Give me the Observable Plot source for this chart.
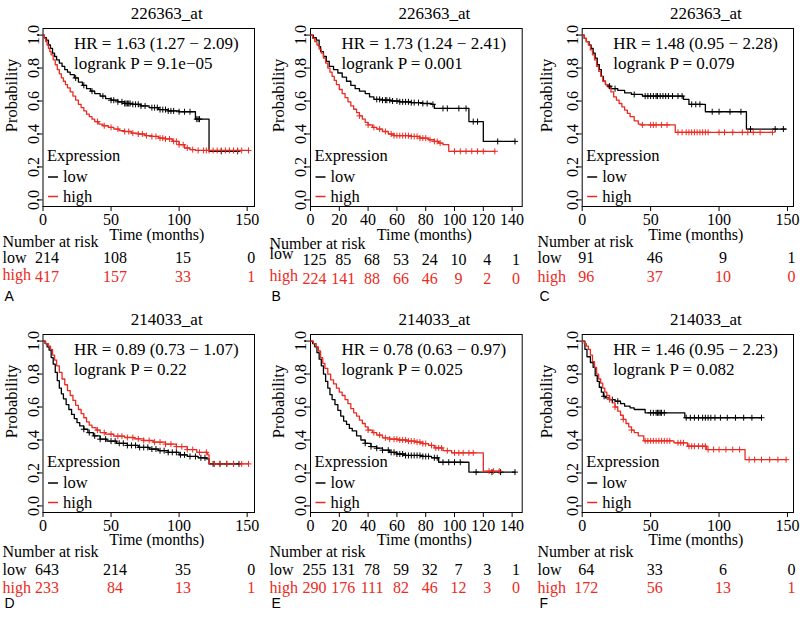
<!DOCTYPE html>
<html><head><meta charset="utf-8">
<script src="https://cdn.jsdelivr.net/npm/d3@7"></script>
<script src="https://cdn.jsdelivr.net/npm/@observablehq/plot@0.6"></script>
<style>
body{margin:0;background:#fff;}
#wrap{position:relative;width:800px;height:625px;overflow:hidden;background:#fff;}
#wrap svg{position:absolute;}
</style></head><body><div id="wrap"></div>
<script>
// ---------- DATA ----------
const titleTop = "226363_at";
const titleBottom = "214033_at";
const hrText = ["HR = 1.63 (1.27 \u2212 2.09)","HR = 1.73 (1.24 \u2212 2.41)","HR = 1.48 (0.95 \u2212 2.28)",
                "HR = 0.89 (0.73 \u2212 1.07)","HR = 0.78 (0.63 \u2212 0.97)","HR = 1.46 (0.95 \u2212 2.23)"];
const pText = ["logrank P = 9.1e\u221205","logrank P = 0.001","logrank P = 0.079",
               "logrank P = 0.22","logrank P = 0.025","logrank P = 0.082"];
const panelLetters = ["A","B","C","D","E","F"];
const groupNames = ["low","high"];
const ticks150 = [0,50,100,150];
const ticks140 = [0,20,40,60,80,100,120,140];
const yTicks = [0,0.2,0.4,0.6,0.8,1.0];

// Panel A
const aLowTime = [0,1,2.5,4,5.5,7,8.5,10,12,14,16,18,20,23,26,29,32,35,38,42,46,50,55,60,66,72,78,85,92,100,112,122,144];
const aLowSurv = [1,0.985,0.97,0.94,0.92,0.89,0.87,0.85,0.83,0.81,0.79,0.775,0.76,0.74,0.715,0.695,0.675,0.66,0.645,0.63,0.615,0.605,0.595,0.585,0.58,0.57,0.56,0.548,0.54,0.535,0.49,0.295,0.295];
const aLowCens = [24,30,36,44,50,52,55,58,60,61,62,63,64,66,68,70,72,75,80,82,84,86,88,90,92,94,96,100,104,108,113,114,115,131,143];
const aHighTime = [0,1,2,3,4,5,6,7.5,9,10.5,12,13.5,15,16.5,18,20,22,24,26,28,30,32,34,36,38,41,44,48,52,56,60,65,70,75,80,85,90,95,100,104,108,112,151];
const aHighSurv = [1,0.98,0.96,0.94,0.92,0.9,0.88,0.85,0.82,0.79,0.765,0.74,0.72,0.7,0.68,0.655,0.63,0.605,0.58,0.56,0.54,0.52,0.505,0.49,0.475,0.46,0.45,0.44,0.43,0.42,0.415,0.405,0.4,0.39,0.385,0.375,0.37,0.355,0.335,0.315,0.305,0.3,0.3];
const aHighCens = [40,45,50,55,60,63,66,70,73,76,80,83,86,88,90,93,96,98,100,103,106,110,114,118,120,122,125,128,131,134,137,140,143,146,151];
const aRiskLow = [214,108,15,0];
const aRiskHigh = [417,157,33,1];

// Panel B
const bLowTime = [0,2,4,6,7,9,11,13,16,19,22,25,28,31,34,38,41,44,50,56,62,70,78,84,86,110,120,142];
const bLowSurv = [1,0.985,0.97,0.93,0.9,0.87,0.84,0.81,0.79,0.77,0.745,0.72,0.695,0.675,0.66,0.645,0.625,0.61,0.605,0.6,0.595,0.59,0.585,0.58,0.555,0.475,0.355,0.355];
const bLowCens = [46,48,50,52,53,55,57,60,62,64,66,68,70,72,75,78,81,85,92,95,103,108,113,116,130,142];
const bHighTime = [0,1.5,3,4.5,6,7.5,9,10.5,12,13.5,15,16.5,18,20,22,24,26,28,30,32,34,36,38,40,43,46,50,54,58,70,76,82,86,89,92,96,128];
const bHighSurv = [1,0.98,0.96,0.94,0.915,0.89,0.86,0.83,0.8,0.775,0.75,0.725,0.7,0.67,0.645,0.62,0.595,0.57,0.55,0.53,0.51,0.49,0.47,0.455,0.44,0.43,0.415,0.4,0.39,0.385,0.375,0.365,0.355,0.345,0.335,0.295,0.295];
const bHighCens = [34,40,44,48,52,56,58,60,62,64,66,68,70,72,74,76,78,80,83,86,88,90,100,104,108,112,116,120,128];
const bRiskLow = [125,85,68,53,24,10,4,1];
const bRiskHigh = [224,141,88,66,46,9,2,0];

// Panel C
const cLowTime = [0,1.5,3,5,6.5,8,9.5,11,12.5,14,15.5,17,19,21,26,31,36,44,74,78,90,120,149];
const cLowSurv = [1,0.98,0.96,0.94,0.92,0.89,0.86,0.82,0.79,0.75,0.72,0.7,0.69,0.675,0.665,0.65,0.64,0.63,0.61,0.58,0.535,0.43,0.43];
const cLowCens = [20,24,38,46,48,50,52,54,55,57,59,61,63,66,70,73,80,83,86,95,100,108,116,123,141,147];
const cHighTime = [0,1.5,3,4.5,6,7.5,9,10.5,12,13.5,15,17,19,21,23,25,27,29,31,33,35,38,41,43,68,139];
const cHighSurv = [1,0.98,0.96,0.94,0.91,0.88,0.85,0.81,0.78,0.75,0.72,0.7,0.68,0.655,0.625,0.605,0.585,0.565,0.545,0.525,0.505,0.48,0.46,0.455,0.41,0.41];
const cHighCens = [44,50,52,54,58,62,70,73,76,78,80,82,84,86,88,90,92,100,104,110,117,121,125,130,139];
const cRiskLow = [91,46,9,1];
const cRiskHigh = [96,37,10,0];

// Panel D
const dLowTime = [0,1.5,3,4.5,6,7.5,9,10.5,12,13.5,15,17,19,21,23,25,27,30,33,37,42,47,54,62,70,78,85,92,100,106,114,120,122,144];
const dLowSurv = [1,0.985,0.965,0.945,0.9,0.86,0.81,0.76,0.715,0.68,0.65,0.615,0.585,0.555,0.53,0.505,0.485,0.465,0.445,0.425,0.405,0.393,0.38,0.367,0.355,0.345,0.335,0.325,0.31,0.3,0.292,0.285,0.255,0.255];
const dLowCens = [30,34,38,42,46,50,53,56,59,62,65,68,71,74,77,80,83,86,89,92,95,98,101,104,108,112,116,119,125,130,135,140,144];
const dHighTime = [0,2,4,5.5,7,8.5,10,12,14,16,18,20,22,24,26,28,30,32,34,36,39,42,46,52,60,67,74,81,90,98,106,113,121,122,151];
const dHighSurv = [1,0.985,0.97,0.95,0.915,0.885,0.85,0.81,0.77,0.735,0.7,0.67,0.64,0.61,0.585,0.56,0.535,0.51,0.49,0.475,0.46,0.445,0.435,0.423,0.415,0.407,0.397,0.387,0.375,0.36,0.342,0.325,0.31,0.255,0.255];
const dHighCens = [40,45,50,55,58,62,66,70,74,78,82,86,90,94,98,102,106,110,115,120,126,130,135,140,146,151];
const dRiskLow = [643,214,35,0];
const dRiskHigh = [233,84,13,1];

// Panel E
const eLowTime = [0,1.5,3,4.5,6,7.5,9,10.5,12,13.5,15,17,19,21,23,25,27,29,32,35,38,42,46,50,55,60,66,78,84,89,110,142];
const eLowSurv = [1,0.985,0.965,0.93,0.89,0.85,0.8,0.755,0.715,0.675,0.645,0.615,0.58,0.545,0.515,0.495,0.47,0.455,0.425,0.4,0.38,0.36,0.35,0.338,0.325,0.315,0.306,0.3,0.292,0.265,0.205,0.205];
const eLowCens = [38,42,46,50,54,56,58,60,62,64,66,68,70,72,74,76,78,80,82,86,88,92,96,100,104,115,126,132,142];
const eHighTime = [0,2,4,5.5,7,8.5,10,12,14,16,18,20,22,24,26,28,30,32,34,36,38,40,43,46,50,55,61,67,73,78,82,86,92,98,120,131.5];
const eHighSurv = [1,0.985,0.965,0.94,0.9,0.865,0.835,0.8,0.765,0.74,0.715,0.69,0.67,0.645,0.62,0.59,0.565,0.545,0.52,0.5,0.48,0.46,0.445,0.43,0.413,0.405,0.4,0.393,0.387,0.378,0.367,0.352,0.335,0.322,0.211,0.211];
const eHighCens = [40,44,48,52,55,58,60,62,64,66,68,70,72,74,76,78,80,84,87,89,91,95,100,103,106,110,113,124,127,131];
const eRiskLow = [255,131,78,59,32,7,3,1];
const eRiskHigh = [290,176,111,82,46,12,3,0];

// Panel F
const fLowTime = [0,2,3.5,6,8,9.5,11,12.5,14,15.5,17,20,24,28,31,35,38,46,75,131];
const fLowSurv = [1,0.95,0.905,0.87,0.84,0.79,0.755,0.72,0.69,0.665,0.655,0.645,0.635,0.62,0.605,0.595,0.585,0.565,0.535,0.535];
const fLowCens = [16,22,26,50,52,54,55,56,57,58,60,76,79,82,85,88,90,92,94,97,101,106,112,118,124,131];
const fHighTime = [0,1.5,3,4.5,6,7.5,9,10.5,12,13.5,15,16.5,18,20,22,24,26,28,30,32,34,36,38,41,45,67,77,91,119,149];
const fHighSurv = [1,0.985,0.97,0.95,0.915,0.875,0.84,0.8,0.77,0.745,0.715,0.69,0.67,0.645,0.625,0.6,0.575,0.55,0.525,0.5,0.48,0.46,0.445,0.425,0.395,0.383,0.362,0.342,0.281,0.281];
const fHighCens = [20,24,30,36,46,48,50,52,54,56,58,60,62,64,70,72,74,78,80,82,85,88,90,92,96,100,105,110,115,122,126,131,137,143,149];
const fRiskLow = [64,33,6,0];
const fRiskHigh = [172,56,13,1];

// ---------- HELPERS ----------
const RED = "#ea2b23", BLACK = "#000";
function steps(times, survs) { return times.map((t, i) => ({t, s: survs[i]})); }
function censorPts(times, survs, cens) {
  return cens.map(c => { let s = survs[0]; for (let i = 0; i < times.length; i++) if (times[i] <= c) s = survs[i]; return {t: c, s}; });
}
const dashSymbol = { draw(ctx, size) { const r = Math.sqrt(size / Math.PI); ctx.moveTo(-r, 0); ctx.lineTo(r, 0); } };

const rows = [
  {top: 0, height: 306, mT: 28, mB: 100, time: 28, nar: 35, low: 51, high: 70, letter: 90},
  {top: 306, height: 319, mT: 28, mB: 113, time: 27, nar: 39, low: 57, high: 75, letter: 91}
];
const cols = [
  {left: 0, mL: 42.5, mR: 11},
  {left: 267, mL: 43, mR: 10.3},
  {left: 535, mL: 46.7, mR: 7}
];

const panels = [
  {row: 0, col: 0, title: titleTop, xTicks: ticks150, xMax: 155.4, low: [aLowTime, aLowSurv, aLowCens], high: [aHighTime, aHighSurv, aHighCens], rLow: aRiskLow, rHigh: aRiskHigh, narS: 0, numS: 0, lowS: 0, highS: -2},
  {row: 0, col: 1, title: titleTop, xTicks: ticks140, xMax: 147, low: [bLowTime, bLowSurv, bLowCens], high: [bHighTime, bHighSurv, bHighCens], rLow: bRiskLow, rHigh: bRiskHigh, narS: 2, numS: 2, lowS: -6, highS: -3},
  {row: 0, col: 2, title: titleTop, xTicks: ticks150, xMax: 154.4, low: [cLowTime, cLowSurv, cLowCens], high: [cHighTime, cHighSurv, cHighCens], rLow: cRiskLow, rHigh: cRiskHigh, narS: 0, numS: 0, lowS: 0, highS: 0},
  {row: 1, col: 0, title: titleBottom, xTicks: ticks150, xMax: 155.4, low: [dLowTime, dLowSurv, dLowCens], high: [dHighTime, dHighSurv, dHighCens], rLow: dRiskLow, rHigh: dRiskHigh, narS: 0, numS: 0, lowS: 0, highS: 0},
  {row: 1, col: 1, title: titleBottom, xTicks: ticks140, xMax: 147, low: [eLowTime, eLowSurv, eLowCens], high: [eHighTime, eHighSurv, eHighCens], rLow: eRiskLow, rHigh: eRiskHigh, narS: 0, numS: 0, lowS: 0, highS: 0},
  {row: 1, col: 2, title: titleBottom, xTicks: ticks150, xMax: 154.4, low: [fLowTime, fLowSurv, fLowCens], high: [fHighTime, fHighSurv, fHighCens], rLow: fRiskLow, rHigh: fRiskHigh, narS: 0, numS: 0, lowS: 0, highS: 0}
];

const wrap = document.getElementById("wrap");
panels.forEach((p, k) => {
  const R = rows[p.row], C = cols[p.col];
  const W = 265;
  const lab = (x) => x - C.mL; // local x -> dx from frame left
  const riskLowData = p.xTicks.map((t, i) => ({t, n: p.rLow[i]}));
  const riskHighData = p.xTicks.map((t, i) => ({t, n: p.rHigh[i]}));
  const svg = Plot.plot({
    width: W, height: R.height,
    marginTop: R.mT, marginBottom: R.mB, marginLeft: C.mL, marginRight: C.mR,
    x: {domain: [0, p.xMax]},
    y: {domain: [-0.04, 1.04]},
    style: {fontFamily: "'Liberation Serif', 'Times New Roman', serif", fontSize: "16px", color: "#000", background: "transparent", overflow: "visible"},
    marks: [
      Plot.frame({stroke: BLACK, strokeWidth: 1}),
      Plot.axisX({ticks: p.xTicks, tickSize: 5, tickPadding: 2, label: null, fontSize: 16, stroke: BLACK}),
      Plot.axisY({ticks: yTicks, tickSize: 5, tickFormat: () => "", label: null, stroke: BLACK}),
      Plot.text(yTicks, {y: d => d, text: d => d3.format(".1f")(d), frameAnchor: "left", rotate: -90, textAnchor: "middle", lineAnchor: "bottom", dx: -4.5, fontSize: 16}),
      Plot.text(["Probability"], {text: d => d, frameAnchor: "top-left", dx: lab(11), dy: 67, rotate: -90, textAnchor: "middle", lineAnchor: "middle", fontSize: 16.5}),
      Plot.text([p.title], {text: d => d, frameAnchor: "top", dx: 18, dy: -15, lineAnchor: "middle", fontSize: 17}),
      Plot.text([hrText[k]], {text: d => d, frameAnchor: "top-left", dx: 31, dy: 15, textAnchor: "start", lineAnchor: "middle", fontSize: 17}),
      Plot.text([pText[k]], {text: d => d, frameAnchor: "top-left", dx: 31, dy: 35, textAnchor: "start", lineAnchor: "middle", fontSize: 17}),
      // legend
      Plot.text(["Expression"], {text: d => d, frameAnchor: "bottom-left", dx: 4, dy: -51, textAnchor: "start", lineAnchor: "middle", fontSize: 16.5}),
      Plot.dot([groupNames[0]], {frameAnchor: "bottom-left", dx: 10, dy: -29.5, symbol: dashSymbol, r: 5, fill: "none", stroke: BLACK, strokeWidth: 1.5}),
      Plot.dot([groupNames[1]], {frameAnchor: "bottom-left", dx: 10, dy: -10, symbol: dashSymbol, r: 5, fill: "none", stroke: RED, strokeWidth: 1.5}),
      Plot.text([groupNames[0]], {text: d => d, frameAnchor: "bottom-left", dx: 20, dy: -29.5, textAnchor: "start", lineAnchor: "middle", fontSize: 16.5}),
      Plot.text([groupNames[1]], {text: d => d, frameAnchor: "bottom-left", dx: 20, dy: -10, textAnchor: "start", lineAnchor: "middle", fontSize: 16.5}),
      // curves
      Plot.line(steps(p.low[0], p.low[1]), {x: "t", y: "s", curve: "step-after", stroke: BLACK, strokeWidth: 1.3}),
      Plot.line(steps(p.high[0], p.high[1]), {x: "t", y: "s", curve: "step-after", stroke: RED, strokeWidth: 1.3}),
      Plot.dot(censorPts(p.low[0], p.low[1], p.low[2]), {x: "t", y: "s", symbol: "plus", r: 2.1, stroke: BLACK, strokeWidth: 1}),
      Plot.dot(censorPts(p.high[0], p.high[1], p.high[2]), {x: "t", y: "s", symbol: "plus", r: 2.1, stroke: RED, strokeWidth: 1}),
      // x label
      Plot.text(["Time (months)"], {text: d => d, frameAnchor: "bottom", dx: 8, dy: R.time, lineAnchor: "middle", fontSize: 16}),
      // number at risk table
      Plot.text(["Number at risk"], {text: d => d, frameAnchor: "bottom-left", dx: lab(2), dy: R.nar + p.narS, textAnchor: "start", lineAnchor: "middle", fontSize: 16}),
      Plot.text([groupNames[0]], {text: d => d, frameAnchor: "bottom-left", dx: lab(2), dy: R.low + p.numS + p.lowS, textAnchor: "start", lineAnchor: "middle", fontSize: 16, fill: BLACK}),
      Plot.text([groupNames[1]], {text: d => d, frameAnchor: "bottom-left", dx: lab(2), dy: R.high + p.numS + p.highS, textAnchor: "start", lineAnchor: "middle", fontSize: 16, fill: RED}),
      Plot.text(riskLowData, {x: "t", text: "n", frameAnchor: "bottom", dx: 4, dy: R.low + p.numS, textAnchor: "middle", lineAnchor: "middle", fontSize: 16, fill: BLACK}),
      Plot.text(riskHighData, {x: "t", text: "n", frameAnchor: "bottom", dx: 4, dy: R.high + p.numS, textAnchor: "middle", lineAnchor: "middle", fontSize: 16, fill: RED}),
      Plot.text([panelLetters[k]], {text: d => d, frameAnchor: "bottom-left", dx: lab(4), dy: R.letter, textAnchor: "start", lineAnchor: "middle", fontSize: 14, fontFamily: "'Liberation Sans', Arial, sans-serif"})
    ]
  });
  svg.style.left = C.left + "px";
  svg.style.top = R.top + "px";
  wrap.appendChild(svg);
});
</script></body></html>
